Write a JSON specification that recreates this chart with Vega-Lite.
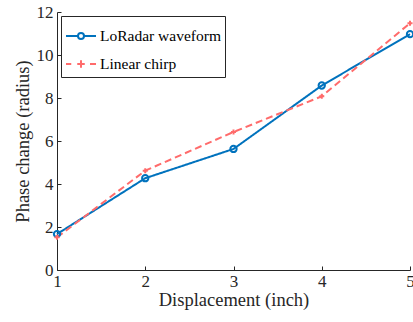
{
  "$schema": "https://vega.github.io/schema/vega-lite/v6.json",
  "width": 353,
  "height": 258,
  "autosize": {"type": "none"},
  "padding": {"left": 57, "top": 12, "right": 3, "bottom": 52},
  "background": "white",
  "config": {
    "view": {"stroke": null},
    "font": "Liberation Serif",
    "axis": {
      "grid": false,
      "domainColor": "#262626",
      "tickColor": "#262626",
      "labelColor": "#262626",
      "titleColor": "#262626",
      "labelFont": "Liberation Serif",
      "titleFont": "Liberation Serif",
      "labelFontSize": 17,
      "titleFontSize": 18.5,
      "titleFontWeight": "normal",
      "tickSize": -4,
      "domainWidth": 1,
      "tickWidth": 1
    },
    "legend": {
      "labelFont": "Liberation Serif",
      "labelFontSize": 15.5,
      "labelColor": "#000000"
    }
  },
  "data": {
    "values": [
      {"d": 1, "v": 1.67, "series": "LoRadar waveform"},
      {"d": 2, "v": 4.27, "series": "LoRadar waveform"},
      {"d": 3, "v": 5.63, "series": "LoRadar waveform"},
      {"d": 4, "v": 8.58, "series": "LoRadar waveform"},
      {"d": 5, "v": 10.97, "series": "LoRadar waveform"},
      {"d": 1, "v": 1.52, "series": "Linear chirp"},
      {"d": 2, "v": 4.62, "series": "Linear chirp"},
      {"d": 3, "v": 6.42, "series": "Linear chirp"},
      {"d": 4, "v": 8.08, "series": "Linear chirp"},
      {"d": 5, "v": 11.48, "series": "Linear chirp"}
    ]
  },
  "encoding": {
    "x": {
      "field": "d", "type": "quantitative",
      "scale": {"domain": [1, 5], "nice": false},
      "axis": {"values": [1, 2, 3, 4, 5], "title": "Displacement (inch)", "labelPadding": 7, "titlePadding": 1, "labelFlush": false}
    },
    "y": {
      "field": "v", "type": "quantitative",
      "scale": {"domain": [0, 12], "nice": false},
      "axis": {"values": [0, 2, 4, 6, 8, 10, 12], "title": "Phase change (radius)", "labelPadding": 8, "titlePadding": 4}
    },
    "color": {
      "field": "series", "type": "nominal",
      "scale": {"domain": ["LoRadar waveform", "Linear chirp"], "range": ["#0072BD", "#FF6B6B"]},
      "legend": null
    }
  },
  "layer": [
    {
      "mark": {"type": "line", "strokeWidth": 2},
      "encoding": {
        "strokeDash": {
          "field": "series", "type": "nominal",
          "scale": {"domain": ["LoRadar waveform", "Linear chirp"], "range": [[1, 0], [7, 4]]},
          "legend": null
        }
      }
    },
    {
      "mark": {"type": "point", "filled": false, "strokeWidth": 2, "size": 40, "opacity": 1},
      "encoding": {
        "shape": {
          "field": "series", "type": "nominal",
          "scale": {"domain": ["LoRadar waveform", "Linear chirp"], "range": ["circle", "M-0.8,0H0.8M0,-0.8V0.8"]},
          "legend": null
        }
      }
    },
    {
      "mark": {"type": "point", "filled": false, "strokeWidth": 2, "opacity": 0},
      "encoding": {
        "color": {
          "field": "series", "type": "nominal",
          "scale": {"domain": ["LoRadar waveform", "Linear chirp"], "range": ["#0072BD", "#FF6B6B"]},
          "legend": {
            "title": null,
            "orient": "top-left",
            "offset": 4,
            "padding": 4,
            "strokeColor": "#262626",
            "fillColor": "white",
            "symbolOpacity": 1,
            "symbolSize": 900,
            "symbolStrokeWidth": 2,
            "symbolFillColor": "transparent",
            "labelOffset": 3,
            "rowPadding": 3
          }
        },
        "shape": {
          "field": "series", "type": "nominal",
          "scale": {"domain": ["LoRadar waveform", "Linear chirp"], "range": ["M-1,0H-0.2M0.2,0H1M0.2,0A0.2,0.2 0 1 1 -0.2,0A0.2,0.2 0 1 1 0.2,0", "M-1,0H-0.65M-0.25,0H0.25M0,-0.25V0.25M0.6,0H1"]},
          "legend": {
            "title": null,
            "orient": "top-left",
            "offset": 4,
            "padding": 4,
            "strokeColor": "#262626",
            "fillColor": "white",
            "symbolOpacity": 1,
            "symbolSize": 900,
            "symbolStrokeWidth": 2,
            "symbolFillColor": "transparent",
            "labelOffset": 3,
            "rowPadding": 3
          }
        }
      }
    }
  ],
  "resolve": {
    "scale": {"shape": "independent"},
    "legend": {"color": "independent", "shape": "independent", "strokeDash": "independent"}
  }
}
